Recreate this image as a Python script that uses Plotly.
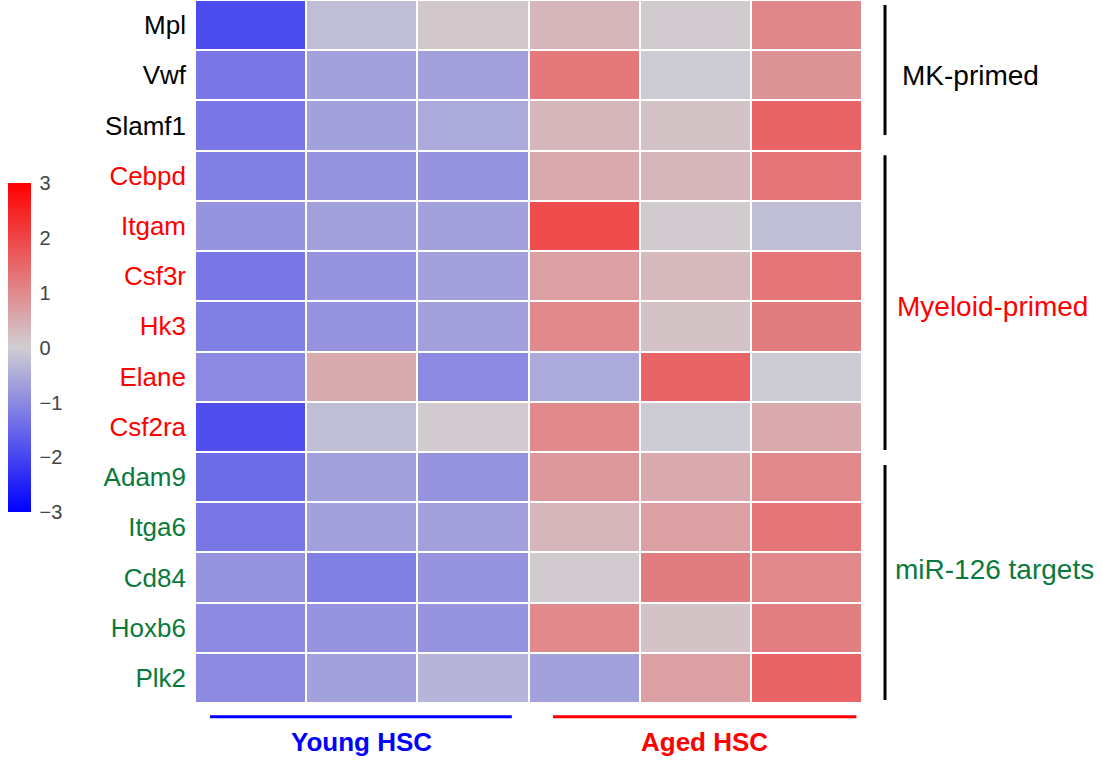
import plotly.graph_objects as go

genes = ["Mpl", "Vwf", "Slamf1", "Cebpd", "Itgam", "Csf3r", "Hk3", "Elane",
         "Csf2ra", "Adam9", "Itga6", "Cd84", "Hoxb6", "Plk2"]
gene_colors = ["#000000"] * 3 + ["#ff0000"] * 6 + ["#0a7a3c"] * 5
samples = ["Young 1", "Young 2", "Young 3", "Aged 1", "Aged 2", "Aged 3"]

young_1 = [-1.9, -1.27, -1.27, -1.15, -0.84, -1.27, -1.15, -1.0, -1.85, -1.44, -1.27, -0.84, -0.98, -0.98]
young_2 = [-0.23, -0.66, -0.66, -0.84, -0.66, -0.84, -0.84, 0.5, -0.23, -0.66, -0.66, -1.15, -0.84, -0.66]
young_3 = [0.1, -0.66, -0.52, -0.84, -0.66, -0.66, -0.66, -1.0, 0.05, -0.84, -0.66, -0.84, -0.84, -0.38]
aged_1 = [0.35, 1.25, 0.35, 0.52, 1.9, 0.67, 0.99, -0.52, 0.99, 0.79, 0.35, 0.05, 0.99, -0.66]
aged_2 = [0.05, -0.05, 0.16, 0.35, 0.05, 0.3, 0.16, 1.54, -0.05, 0.52, 0.67, 1.18, 0.16, 0.67]
aged_3 = [1.03, 0.85, 1.54, 1.28, -0.23, 1.28, 1.18, -0.05, 0.52, 0.99, 1.28, 0.99, 1.15, 1.54]

cb_ticks = [3, 2, 1, 0, -1, -2, -3]
cb_ticktext = ["3", "2", "1", "0", "\u22121", "\u22122", "\u22123"]

groups = [("MK-primed", "#000000", -0.4, 2.19, 1.0, 900),
          ("Myeloid-primed", "#ff0000", 2.59, 8.46, 5.6, 895),
          ("miR-126 targets", "#0a7a3c", 8.76, 13.44, 10.85, 893)]
conditions = [("Young HSC", "#0000ff", -0.365, 2.35, 1.0),
              ("Aged HSC", "#ff0000", 2.72, 5.45, 4.08)]

cols = [young_1, young_2, young_3, aged_1, aged_2, aged_3]
z = [[c[i] for c in cols] for i in range(len(genes))]

font_family = "Liberation Sans, Arial, sans-serif"

fig = go.Figure(go.Heatmap(
    z=z,
    x=list(range(len(samples))),
    y=list(range(len(genes))),
    zmin=-3, zmax=3,
    colorscale=[[0, "rgb(0,0,255)"], [0.5, "rgb(208,206,210)"], [1, "rgb(255,0,0)"]],
    xgap=2, ygap=2,
    colorbar=dict(
        xref="container", yref="container",
        x=8 / 1102, xanchor="left", xpad=0,
        y=1 - 377 / 762, yanchor="middle", ypad=0,
        lenmode="pixels", len=329,
        thickness=23, outlinewidth=0,
        tickvals=cb_ticks, ticktext=cb_ticktext,
        ticks="outside", ticklen=5, tickcolor="rgba(0,0,0,0)",
        tickfont=dict(family=font_family, size=20, color="#444444"),
    ),
))

fig.update_xaxes(visible=False, range=[-0.5, 5.5])
fig.update_yaxes(
    autorange="reversed",
    tickvals=list(range(len(genes))),
    ticktext=[f"<span style='color:{c}'>{g}</span>" for g, c in zip(genes, gene_colors)],
    tickfont=dict(family=font_family, size=26, color="#000000"),
    ticks="", ticklabelstandoff=8,
    showgrid=False, zeroline=False, showline=False,
)

shapes = []
annotations = []
for name, color, y0, y1, yt, xpx in groups:
    shapes.append(dict(type="line", xref="paper", yref="y",
                       x0=(885 - 195) / 667, x1=(885 - 195) / 667, y0=y0, y1=y1,
                       line=dict(color="#000000", width=3)))
    annotations.append(dict(text=name, xref="paper", yref="y",
                            x=(xpx - 195) / 667, y=yt, xanchor="left", yanchor="middle",
                            showarrow=False,
                            font=dict(family=font_family, size=28, color=color)))
for name, color, x0, x1, xt in conditions:
    shapes.append(dict(type="line", xref="x", yref="paper",
                       x0=x0, x1=x1, y0=-0.0195, y1=-0.0195,
                       line=dict(color=color, width=3)))
    annotations.append(dict(text=f"<b>{name}</b>", xref="x", yref="paper",
                            x=xt, y=-0.0555, xanchor="center", yanchor="middle",
                            showarrow=False,
                            font=dict(family=font_family, size=26, color=color)))

fig.update_layout(
    width=1102, height=762,
    margin=dict(l=195, r=240, t=0, b=59),
    paper_bgcolor="white", plot_bgcolor="white",
    shapes=shapes, annotations=annotations,
    font=dict(family=font_family),
)

fig.write_html("out.html")
